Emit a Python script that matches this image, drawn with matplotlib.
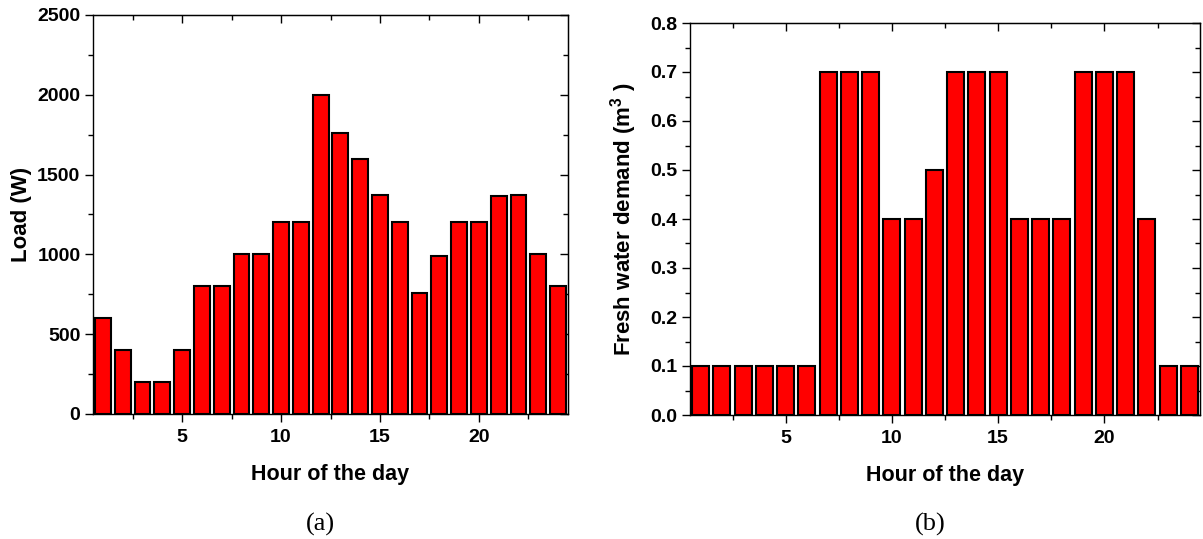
import matplotlib
matplotlib.use("Agg")
import matplotlib.pyplot as plt
from matplotlib.ticker import MultipleLocator

plt.rcParams['font.family'] = ['Liberation Sans', 'DejaVu Sans']
plt.rcParams['font.weight'] = 'bold'
plt.rcParams['mathtext.fontset'] = 'custom'
plt.rcParams['mathtext.rm'] = 'Liberation Sans:bold'
plt.rcParams['mathtext.bf'] = 'Liberation Sans:bold'
plt.rcParams['mathtext.it'] = 'Liberation Sans:bold'

hours = list(range(1, 25))
load_w = [600, 400, 200, 200, 400, 800, 800, 1000, 1000, 1200, 1200, 2000,
          1760, 1600, 1370, 1200, 760, 990, 1200, 1200, 1365, 1375, 1005, 800]
water_m3 = [0.1, 0.1, 0.1, 0.1, 0.1, 0.1, 0.7, 0.7, 0.7, 0.4, 0.4, 0.5,
            0.7, 0.7, 0.7, 0.4, 0.4, 0.4, 0.7, 0.7, 0.7, 0.4, 0.1, 0.1]

W, H = 1203, 539
fig = plt.figure(figsize=(W / 100, H / 100), dpi=100)

def box(l, t, r, b):
    return [l / W, 1 - b / H, (r - l) / W, (b - t) / H]

ax1 = fig.add_axes(box(93, 15, 568, 414))
ax2 = fig.add_axes(box(690, 23, 1200, 415))

def style(ax):
    ax.set_xlim(0.5, 24.5)
    ax.xaxis.set_major_locator(MultipleLocator(5))
    ax.xaxis.set_minor_locator(MultipleLocator(2.5))
    ax.tick_params(which='both', direction='out', top=False, right=False,
                   labelsize=14, width=1.0)
    ax.tick_params(which='major', length=6)
    ax.tick_params(which='minor', length=3.5)
    ax.tick_params(axis='x', which='major', pad=5)
    ax.tick_params(axis='y', which='major', pad=3)
    for s in ax.spines.values():
        s.set_linewidth(1.0)
    sx = ax.secondary_xaxis('top')
    sx.xaxis.set_major_locator(MultipleLocator(5))
    sx.xaxis.set_minor_locator(MultipleLocator(2.5))
    sx.tick_params(which='both', direction='in', labeltop=False, width=1.0)
    sx.tick_params(which='major', length=6)
    sx.tick_params(which='minor', length=3.5)
    sy = ax.secondary_yaxis('right')
    sy.yaxis.set_major_locator(ax.yaxis.get_major_locator())
    sy.yaxis.set_minor_locator(ax.yaxis.get_minor_locator())
    sy.tick_params(which='both', direction='in', labelright=False, width=1.0)
    sy.tick_params(which='major', length=6)
    sy.tick_params(which='minor', length=3.5)
    ax.set_xlabel('Hour of the day', fontsize=15.5, fontweight='bold', labelpad=13)

ax1.bar(hours, load_w, width=0.8, color='#ff0000', edgecolor='black', linewidth=1.5)
ax1.set_ylim(0, 2500)
ax1.yaxis.set_major_locator(MultipleLocator(500))
ax1.yaxis.set_minor_locator(MultipleLocator(250))
style(ax1)
ax1.set_ylabel('Load (W)', fontsize=16, fontweight='bold', labelpad=4)

ax2.bar(hours, water_m3, width=0.8, color='#ff0000', edgecolor='black', linewidth=1.5)
ax2.set_ylim(0, 0.8)
ax2.yaxis.set_major_locator(MultipleLocator(0.1))
ax2.yaxis.set_minor_locator(MultipleLocator(0.05))
ax2.yaxis.set_major_formatter(matplotlib.ticker.FormatStrFormatter('%.1f'))
style(ax2)
ax2.set_ylabel('Fresh water demand (m$^{3}$ )', fontsize=16, fontweight='bold', labelpad=8)

fig.text(320 / W, 1 - 524 / H, '(a)', fontsize=19, family='Liberation Serif',
         fontweight='normal', ha='center', va='center')
fig.text(930 / W, 1 - 524 / H, '(b)', fontsize=19, family='Liberation Serif',
         fontweight='normal', ha='center', va='center')

fig.savefig('out.png', dpi=100)
